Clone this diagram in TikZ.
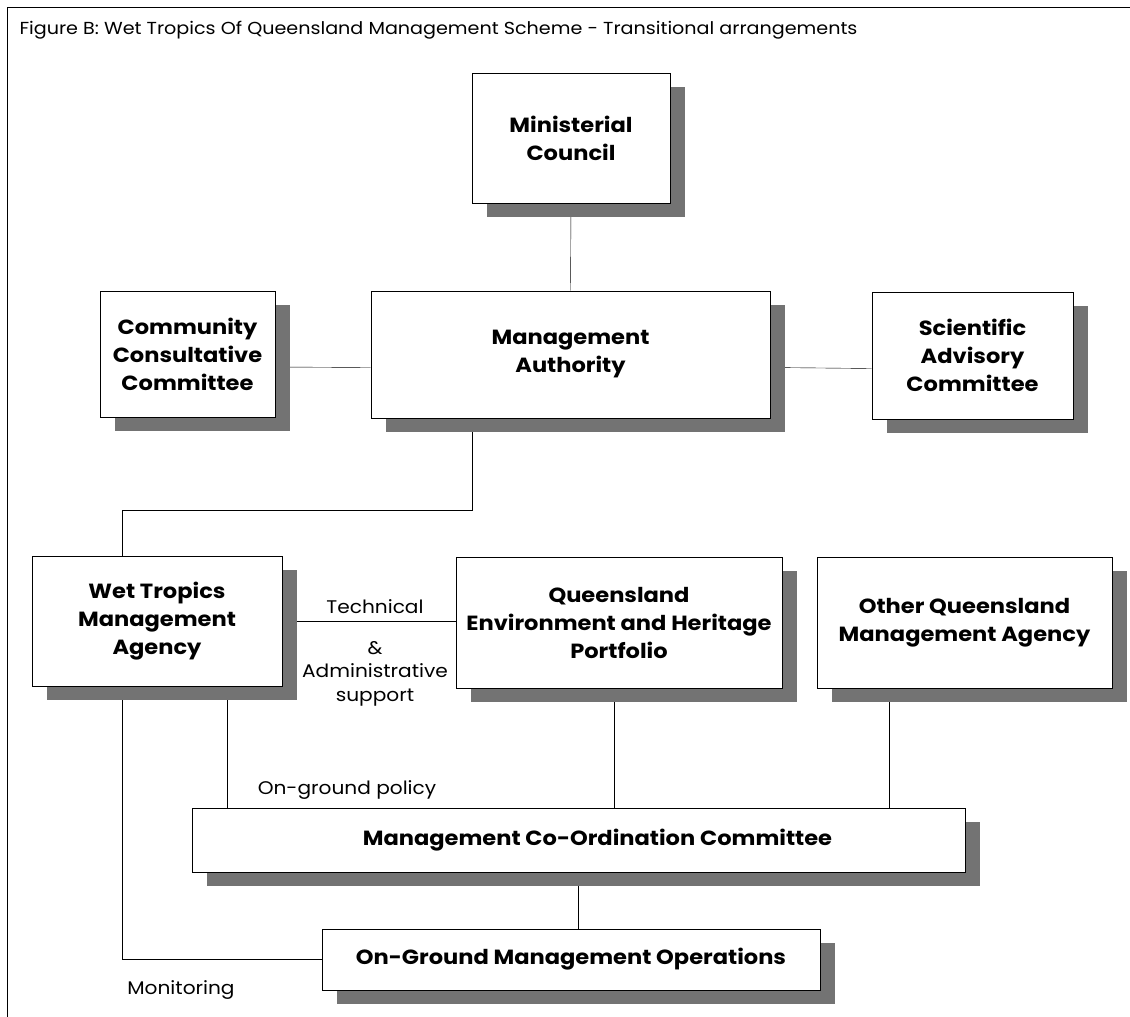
\documentclass[tikz,border=0pt]{standalone}
\usepackage{fontspec}
\setmainfont{Poppins}[FakeStretch=1.1]
\usetikzlibrary{shadows,backgrounds}
\tikzset{
  unit/.style={draw, line width=1pt, fill=white, inner sep=0pt, align=center,
    font=\bfseries\fontsize{20.5}{28}\selectfont,
    drop shadow={shadow xshift=15pt, shadow yshift=-14pt, fill=black!55, opacity=1}},
  link/.style={line width=0.9pt},
  note/.style={font=\fontsize{18.3}{24}\selectfont, align=center}
}
\begin{document}
\begin{tikzpicture}[x=1pt, y=-1pt]
  \useasboundingbox (0,0) rectangle (1130,1017);
  \draw[line width=0.8pt] (1130,7) -- (7,7) -- (7,1017);
  \node (title) at (16,30) [anchor=west, font=\fontsize{17.4}{20}\selectfont] {Figure B: Wet Tropics Of Queensland Management Scheme - Transitional arrangements};

  \node (mc) at (571,138) [unit, minimum width=198pt, minimum height=130pt] {Ministerial\\Council};
  \node (ccc) at (187.5,354) [unit, minimum width=175pt, minimum height=126pt] {Community\\Consultative\\Committee};
  \node (ma) at (570.5,354.5) [unit, minimum width=399pt, minimum height=127pt] {Management\\Authority};
  \node (sac) at (972.5,355.5) [unit, minimum width=201pt, minimum height=127pt] {Scientific\\Advisory\\Committee};

  \node (wtma) at (157,621) [unit, minimum width=250pt, minimum height=130pt] {Wet Tropics\\Management\\Agency};
  \node (qehp) at (619,622.5) [unit, minimum width=326pt, minimum height=131pt] {Queensland\\Environment and Heritage\\Portfolio};
  \node (oqma) at (964.5,622.5) [unit, minimum width=295pt, minimum height=131pt] {Other Queensland\\Management Agency};

  \node (mcc) at (578.5,840) [unit, minimum width=773pt, minimum height=64pt] {\hspace*{38pt}Management Co-Ordination Committee};
  \node (ogmo) at (571,959.5) [unit, minimum width=498pt, minimum height=61pt] {On-Ground Management Operations};

  \node (tech) at (375,607) [note] {Technical};
  \node (amp) at (375,648) [note] {\&};
  \node (admin) at (375,685) [note] {Administrative\\support};
  \node (policy) at (347,790) [note] {On-ground policy};
  \node (monit) at (181,990) [note] {Monitoring};

  \begin{scope}[on background layer, link]
    \draw (mc.south) -- (ma.north);
    \draw ([yshift=-13pt]ccc.east) -- ([yshift=-13pt]ma.west);
    \draw ([yshift=-13pt]ma.east) -- ([yshift=-13pt]sac.west);
    \draw ([xshift=-98pt]ma.south) -- ++(0,92) -| ([xshift=-35pt]wtma.north);
    \draw (wtma.east) -- (wtma.east -| qehp.west);
    \draw ([xshift=70pt]wtma.south) -- ([xshift=70pt]wtma.south |- mcc.north);
    \draw ([xshift=-35pt]wtma.south) |- (ogmo.west);
    \draw ([xshift=-5pt]qehp.south) -- ([xshift=-5pt]qehp.south |- mcc.north);
    \draw ([xshift=-75pt]oqma.south) -- ([xshift=-75pt]oqma.south |- mcc.north);
    \draw (mcc.south) -- (mcc.south |- ogmo.north);
  \end{scope}
\end{tikzpicture}
\end{document}
